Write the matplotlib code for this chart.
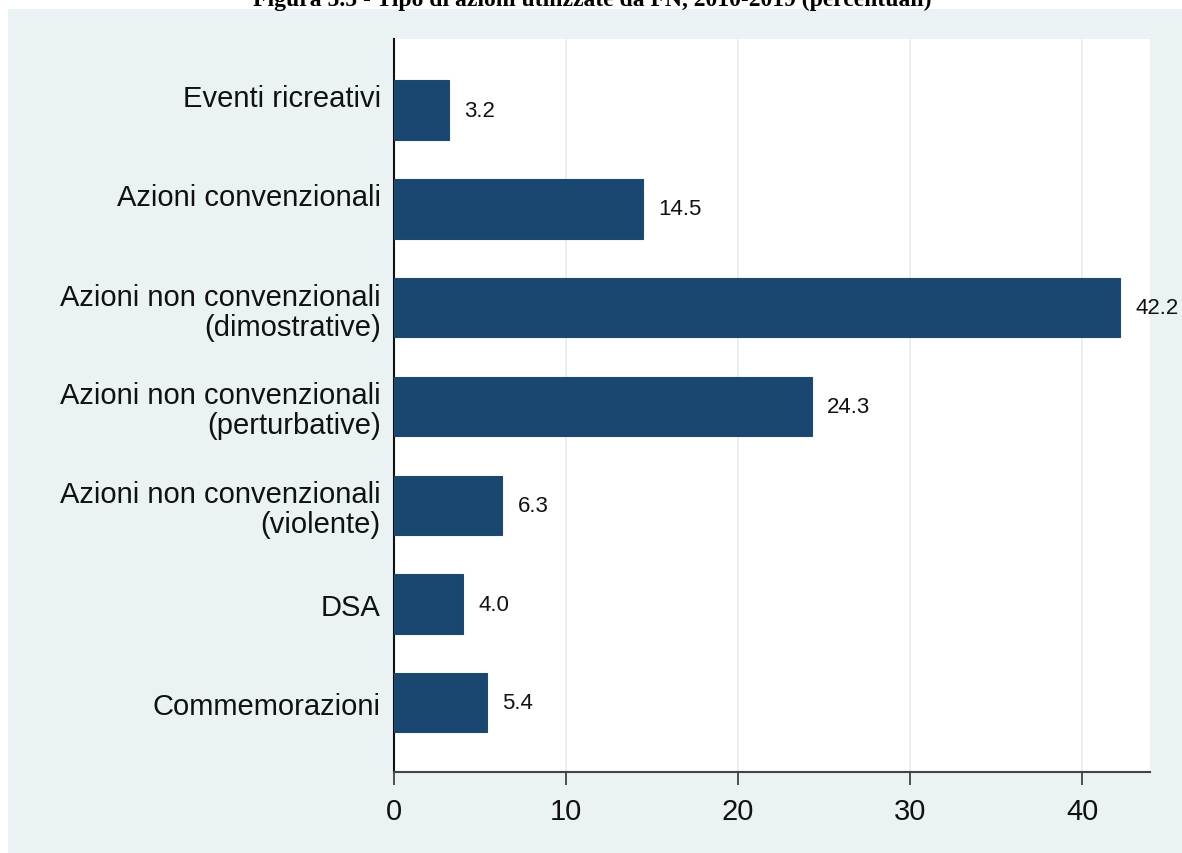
import matplotlib
matplotlib.use("Agg")
import matplotlib.pyplot as plt
import matplotlib.transforms as mtransforms
from matplotlib.patches import Rectangle

categories = [
    "Eventi ricreativi",
    "Azioni convenzionali",
    "Azioni non convenzionali\n(dimostrative)",
    "Azioni non convenzionali\n(perturbative)",
    "Azioni non convenzionali\n(violente)",
    "DSA",
    "Commemorazioni",
]
values = [3.2, 14.5, 42.2, 24.3, 6.3, 4.0, 5.4]
xticks = [0, 10, 20, 30, 40]
title = "Figura 5.5 - Tipo di azioni utilizzate da FN, 2010-2019 (percentuali)"

W, H = 1182, 854
fig = plt.figure(figsize=(W / 100, H / 100), dpi=100)
fig.patch.set_facecolor("white")

# Stata-like outer panel
fig.patches.append(Rectangle((8 / W, 0), 1 - 8 / W, 1 - 10 / H,
                             transform=fig.transFigure, facecolor="#eaf2f3",
                             edgecolor="none", zorder=-5))

ax = fig.add_axes([394 / W, 1 - 773 / H, (1150 - 394) / W, (773 - 40) / H])
ax.set_zorder(1)
ax.set_facecolor("white")

pos = list(range(len(categories)))
ax.barh(pos, values, height=0.6, color="#1a476f", edgecolor="#1d4a72",
        linewidth=0.8, zorder=3)
for p, v in zip(pos, values):
    ax.annotate(f"{v:.1f}", (v, p), xytext=(11, 0), textcoords="offset points",
                va="center", ha="left", fontsize=16, family="Liberation Sans",
                color="#111111")

ax.set_ylim(6.7, -0.72)
ax.set_xlim(0, 43.95)
ax.set_yticks(pos)
ax.set_yticklabels(categories, fontsize=21, family="Liberation Sans",
                   linespacing=1.09, color="#111111")
ax.set_xticks(xticks)
ax.set_xticklabels([str(t) for t in xticks], fontsize=21, family="Liberation Sans",
                   color="#111111")
ax.tick_params(axis="y", length=0, pad=9.5)
ax.tick_params(axis="x", length=9, width=1.2, color="#333333", pad=9)

# first two single-line labels sit half a line above bar centre (as in source)
shift = mtransforms.ScaledTranslation(0, 15 / 100, fig.dpi_scale_trans)
for lab in ax.get_yticklabels()[:2]:
    lab.set_transform(lab.get_transform() + shift)

ax.grid(axis="x", color="#e4eef0", linewidth=1.2, zorder=0)
ax.set_axisbelow(True)
for s in ["top", "right"]:
    ax.spines[s].set_visible(False)
ax.spines["left"].set_color("#111111")
ax.spines["left"].set_linewidth(1.5)
ax.spines["bottom"].set_color("#444444")
ax.spines["bottom"].set_linewidth(1.5)

fig.text(592 / W, 1 - 6 / H, title, ha="center", va="baseline",
         fontsize=17, fontweight="bold", family="Liberation Serif")

fig.savefig("out.png", dpi=100, facecolor=fig.get_facecolor())
